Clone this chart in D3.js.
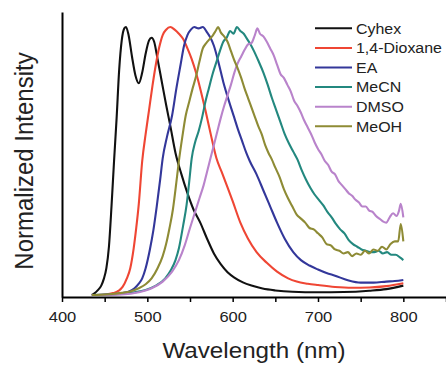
<!DOCTYPE html>
<html><head><meta charset="utf-8">
<script src="https://cdn.jsdelivr.net/npm/d3@7"></script>
<style>
body{margin:0;background:#fff}
svg{display:block}
text{font-family:Arial,"Liberation Sans",sans-serif;fill:#222}
</style></head>
<body><svg id="chart" width="446" height="365"></svg>
<script>
// ---- data ----
const seriesNames = ["Cyhex","1,4-Dioxane","EA","MeCN","DMSO","MeOH"];
const seriesColors = ["#111111","#ef4634","#33379a","#23887f","#b983cb","#8e8b35"];

const cyhexWl = [435,438,442,446,449,452,455,458,461,464,467,470,473,475,478,482,486,490,494,498,502,505,508,512,517,522,527,533,540,547,554,562,570,578,586,594,602,612,622,635,650,670,700,730,760,780,800];
const cyhexI  = [0,0.006,0.018,0.035,0.06,0.10,0.18,0.33,0.50,0.66,0.84,0.95,0.995,1.0,0.97,0.89,0.82,0.79,0.83,0.90,0.95,0.96,0.945,0.88,0.795,0.71,0.63,0.53,0.45,0.38,0.32,0.27,0.21,0.155,0.115,0.085,0.065,0.047,0.035,0.024,0.017,0.012,0.01,0.011,0.016,0.022,0.035];

const dioxaneWl = [435,450,460,466,471,476,480,484,487,490,494,498,502,506,510,514,518,522,527,532,537,542,547,552,557,562,568,575,581,587,593,600,609,618,628,640,652,665,675,688,700,720,740,760,780,800];
const dioxaneI  = [0,0.002,0.007,0.015,0.03,0.062,0.10,0.174,0.25,0.34,0.50,0.60,0.69,0.78,0.86,0.925,0.97,0.99,1.0,0.99,0.975,0.955,0.92,0.88,0.83,0.77,0.69,0.59,0.51,0.46,0.41,0.35,0.27,0.21,0.16,0.12,0.087,0.062,0.05,0.042,0.037,0.03,0.027,0.028,0.033,0.044];

const eaWl = [435,460,470,478,485,490,494,498,503,507,511,515,518,523,529,534,539,543,547,551,555,560,565,570,574,578,584,589,595,601,606,611,616,620,628,636,644,652,661,671,680,690,700,710,720,735,750,765,780,790,800];
const eaI  = [0,0.003,0.007,0.012,0.025,0.042,0.062,0.10,0.17,0.24,0.33,0.43,0.51,0.59,0.67,0.77,0.86,0.93,0.97,0.99,1.0,0.995,1.0,0.98,0.96,0.93,0.86,0.795,0.73,0.67,0.62,0.575,0.53,0.50,0.45,0.39,0.33,0.27,0.21,0.16,0.13,0.11,0.095,0.082,0.072,0.055,0.046,0.046,0.05,0.052,0.056];

const mecnWl = [435,470,485,498,510,521,528,533,537,542,546,549,552,556,560,564,568,572,577,581,585,589,593,597,601,605,609,613,617,621,625,630,636,641,646,651,656,661,666,671,676,681,686,691,696,701,706,711,716,721,726,731,736,741,746,751,756,761,766,771,776,781,786,791,796,800];
const mecnI  = [0,0.004,0.01,0.019,0.035,0.062,0.095,0.13,0.174,0.26,0.336,0.42,0.51,0.57,0.61,0.66,0.72,0.77,0.83,0.87,0.91,0.945,0.96,0.985,0.975,1.0,0.985,0.975,0.955,0.935,0.91,0.875,0.83,0.785,0.735,0.69,0.645,0.60,0.565,0.535,0.505,0.465,0.43,0.40,0.375,0.355,0.335,0.31,0.29,0.265,0.245,0.23,0.205,0.19,0.18,0.17,0.165,0.16,0.16,0.165,0.155,0.16,0.15,0.15,0.14,0.13];

const dmsoWl = [435,470,490,505,518,529,537,544,550,556,561,566,570,574,578,582,586,590,594,598,602,606,610,614,618,622,626,629,632,636,640,644,648,652,656,660,664,668,672,676,680,684,688,692,696,700,704,708,712,716,720,724,728,732,736,740,744,748,752,756,760,764,768,772,776,780,784,788,792,795,797,800];
const dmsoI  = [0,0.002,0.01,0.025,0.05,0.087,0.13,0.187,0.25,0.31,0.36,0.41,0.46,0.51,0.56,0.61,0.66,0.705,0.745,0.785,0.83,0.865,0.89,0.915,0.935,0.94,0.97,0.995,0.975,0.965,0.945,0.92,0.895,0.86,0.825,0.81,0.785,0.76,0.725,0.705,0.68,0.65,0.625,0.60,0.57,0.545,0.525,0.50,0.485,0.46,0.45,0.425,0.41,0.395,0.38,0.37,0.355,0.345,0.33,0.33,0.315,0.31,0.295,0.285,0.275,0.27,0.29,0.305,0.295,0.315,0.34,0.29];

const meohWl = [435,455,470,480,490,498,505,512,518,522,526,530,534,537,541,545,549,553,557,561,565,569,573,577,580,583,586,590,594,598,602,606,610,614,618,622,626,630,634,638,642,646,650,655,660,665,670,675,680,685,690,695,700,705,710,715,720,725,730,735,740,745,750,755,760,765,770,775,780,785,790,794,797,800];
const meohI  = [0,0.003,0.008,0.013,0.025,0.04,0.062,0.10,0.145,0.19,0.25,0.32,0.42,0.50,0.59,0.67,0.72,0.77,0.815,0.87,0.92,0.94,0.955,0.97,0.985,1.0,0.98,0.965,0.945,0.91,0.875,0.845,0.81,0.77,0.735,0.70,0.665,0.63,0.60,0.56,0.53,0.505,0.475,0.44,0.395,0.36,0.33,0.30,0.285,0.27,0.25,0.245,0.23,0.215,0.19,0.185,0.17,0.165,0.155,0.16,0.145,0.155,0.15,0.165,0.155,0.17,0.165,0.18,0.17,0.19,0.20,0.20,0.265,0.20];

const xTickValues = [400,450,500,550,600,650,700,750,800,850];
const xTickLabels = ["400","","500","","600","","700","","800",""];
const xTitle = "Wavelength (nm)";
const yTitle = "Normalized Intensity";

// ---- build ----
const series = [
  {name:seriesNames[0], color:seriesColors[0], wl:cyhexWl,   v:cyhexI},
  {name:seriesNames[1], color:seriesColors[1], wl:dioxaneWl, v:dioxaneI},
  {name:seriesNames[2], color:seriesColors[2], wl:eaWl,      v:eaI},
  {name:seriesNames[3], color:seriesColors[3], wl:mecnWl,    v:mecnI},
  {name:seriesNames[4], color:seriesColors[4], wl:dmsoWl,    v:dmsoI},
  {name:seriesNames[5], color:seriesColors[5], wl:meohWl,    v:meohI}
];

const svg = d3.select("#chart");
const x = d3.scaleLinear().domain([400,850]).range([62,446]);
const y = d3.scaleLinear().domain([-0.0075,1.056]).range([297,12]);

const line = d3.line().x(d=>x(d[0])).y(d=>y(d[1])).curve(d3.curveMonotoneX);

svg.append("g").selectAll("path").data(series).join("path")
  .attr("d", s => line(s.wl.map((w,i)=>[w,s.v[i]])))
  .attr("fill","none").attr("stroke", s=>s.color)
  .attr("stroke-width",2.1).attr("stroke-linejoin","round");

// axes
const gx = svg.append("g").attr("transform","translate(0,297)")
  .call(d3.axisBottom(x).tickValues(xTickValues).tickSize(5).tickSizeOuter(0)
        .tickFormat((d,i)=>xTickLabels[i]));
gx.select(".domain").attr("stroke","#000").attr("stroke-width",2);
gx.selectAll(".tick line").attr("stroke","#000").attr("stroke-width",1.5);
gx.selectAll(".tick text").attr("y",14).attr("font-size",15)
  .attr("transform","scale(1.1,1)").style("font-family","Arial, 'Liberation Sans', sans-serif").attr("fill","#222");

const gy = svg.append("g").attr("transform","translate(62,0)")
  .call(d3.axisLeft(y).tickValues([]).tickSizeOuter(0));
gy.select(".domain").attr("stroke","#000").attr("stroke-width",2);

// titles
svg.append("text").attr("text-anchor","middle").attr("font-size",22)
  .attr("transform","translate(254,357.5) scale(1.1,1)").text(xTitle);
svg.append("text").attr("text-anchor","middle").attr("font-size",24)
  .attr("transform","translate(32.5,161) scale(1.1,1) rotate(-90)").text(yTitle);

// legend
const lg = svg.append("g");
series.forEach((s,i)=>{
  const ry = 28.3 + i*19.6;
  lg.append("line").attr("x1",315).attr("x2",352).attr("y1",ry).attr("y2",ry)
    .attr("stroke",s.color).attr("stroke-width",2);
  lg.append("text").attr("font-size",14.5).attr("dy","0.36em")
    .attr("transform",`translate(356,${ry}) scale(1.1,1)`).text(s.name);
});
</script></body></html>
